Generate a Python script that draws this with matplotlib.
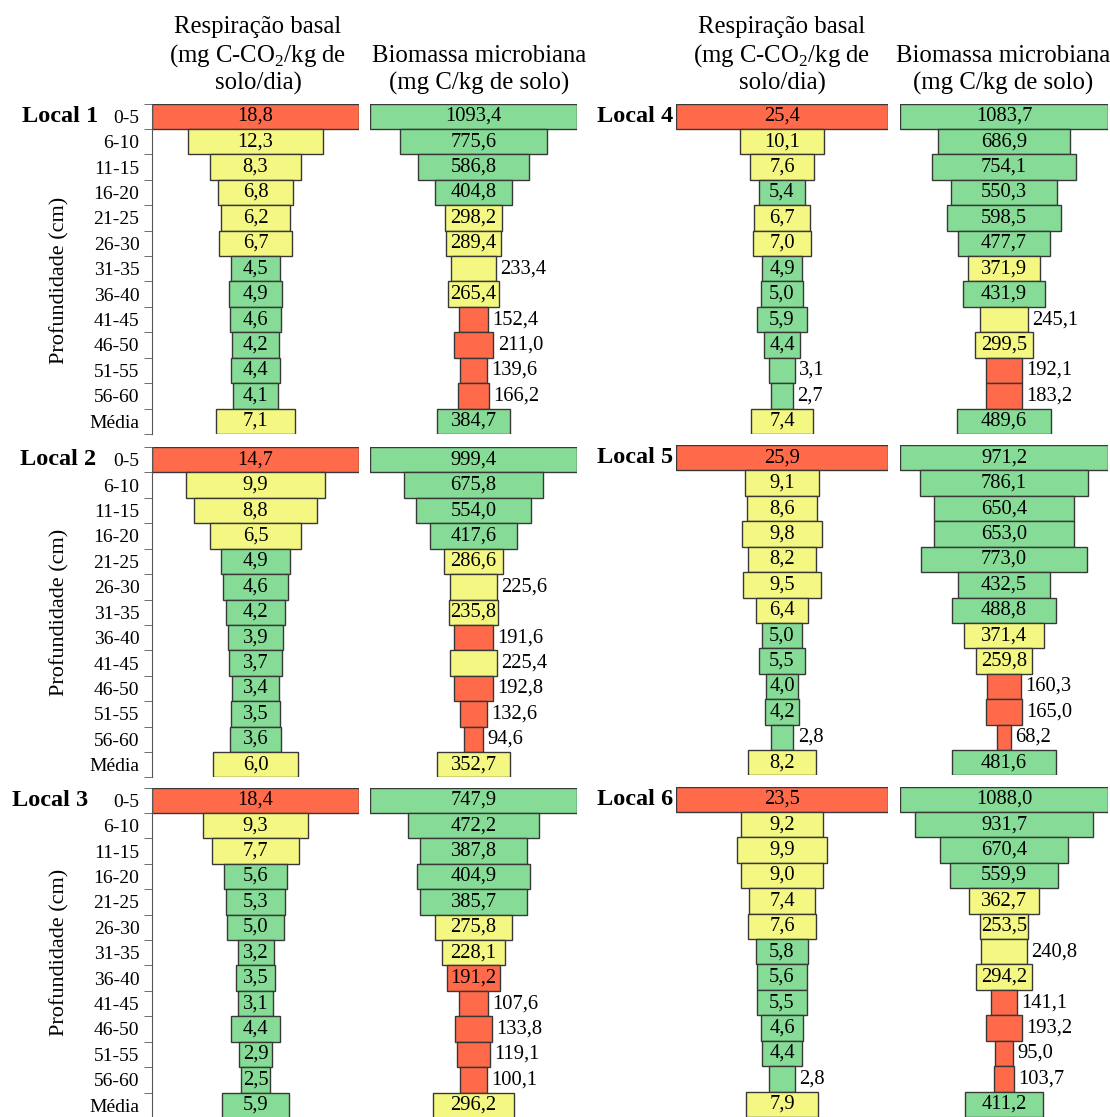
import numpy as np
import matplotlib.pyplot as plt

plt.rcParams['font.family'] = ['Liberation Serif', 'DejaVu Serif']
plt.rcParams['mathtext.fontset'] = 'custom'
plt.rcParams['mathtext.rm'] = 'Liberation Serif'

depths = ['0-5', '6-10', '11-15', '16-20', '21-25', '26-30', '31-35',
          '36-40', '41-45', '46-50', '51-55', '56-60', 'Média']

# respiração basal (mg C-CO2/kg de solo/dia)
resp_l1 = [18.8, 12.3, 8.3, 6.8, 6.2, 6.7, 4.5, 4.9, 4.6, 4.2, 4.4, 4.1, 7.1]
resp_l2 = [14.7, 9.9, 8.8, 6.5, 4.9, 4.6, 4.2, 3.9, 3.7, 3.4, 3.5, 3.6, 6.0]
resp_l3 = [18.4, 9.3, 7.7, 5.6, 5.3, 5.0, 3.2, 3.5, 3.1, 4.4, 2.9, 2.5, 5.9]
resp_l4 = [25.4, 10.1, 7.6, 5.4, 6.7, 7.0, 4.9, 5.0, 5.9, 4.4, 3.1, 2.7, 7.4]
resp_l5 = [25.9, 9.1, 8.6, 9.8, 8.2, 9.5, 6.4, 5.0, 5.5, 4.0, 4.2, 2.8, 8.2]
resp_l6 = [23.5, 9.2, 9.9, 9.0, 7.4, 7.6, 5.8, 5.6, 5.5, 4.6, 4.4, 2.8, 7.9]

# biomassa microbiana (mg C/kg de solo)
bio_l1 = [1093.4, 775.6, 586.8, 404.8, 298.2, 289.4, 233.4, 265.4, 152.4, 211.0, 139.6, 166.2, 384.7]
bio_l2 = [999.4, 675.8, 554.0, 417.6, 286.6, 225.6, 235.8, 191.6, 225.4, 192.8, 132.6, 94.6, 352.7]
bio_l3 = [747.9, 472.2, 387.8, 404.9, 385.7, 275.8, 228.1, 191.2, 107.6, 133.8, 119.1, 100.1, 296.2]
bio_l4 = [1083.7, 686.9, 754.1, 550.3, 598.5, 477.7, 371.9, 431.9, 245.1, 299.5, 192.1, 183.2, 489.6]
bio_l5 = [971.2, 786.1, 650.4, 653.0, 773.0, 432.5, 488.8, 371.4, 259.8, 160.3, 165.0, 68.2, 481.6]
bio_l6 = [1088.0, 931.7, 670.4, 559.9, 362.7, 253.5, 240.8, 294.2, 141.1, 193.2, 95.0, 103.7, 411.2]

# linhas com o rótulo fora da barra
out_resp = [[], [], [], [10, 11], [11], [11]]
out_bio = [[6, 8, 9, 10, 11], [5, 7, 8, 9, 10, 11], [8, 9, 10, 11],
           [8, 10, 11], [9, 10, 11], [6, 8, 9, 10, 11]]

RED, YEL, GRN = '#FF6A4A', '#F4F882', '#86DC96'


def cor(v, tipo):
    if tipo == 'resp':
        return GRN if v < 6 else (YEL if v < 13 else RED)
    return RED if v < 220 else (YEL if v < 380 else GRN)


W, H = 1110, 1117
fig = plt.figure(figsize=(W / 100, H / 100), dpi=100)


def px_axes(x0, x1, y0, y1):
    return fig.add_axes([x0 / W, 1 - y1 / H, (x1 - x0) / W, (y1 - y0) / H])


def draw(ax, vals, outside, tipo, labels):
    n = len(vals)
    m = max(vals)
    ax.barh(range(n), vals, left=[-v / 2 for v in vals], height=1.0,
            color=[cor(v, tipo) for v in vals], edgecolor='#383838', linewidth=1)
    ax.set_xlim(-m / 2, m / 2)
    ax.set_ylim(n - 0.5, -0.5)
    for i, v in enumerate(vals):
        txt = f'{v:.1f}'.replace('.', ',')
        if i in outside:
            ax.annotate(txt, (v / 2, i), xytext=(3, 0), textcoords='offset points',
                        ha='left', va='center', fontsize=14.8)
        else:
            ax.text(0, i, txt, ha='center', va='center', fontsize=14.8)
    for s in ['top', 'right', 'bottom']:
        ax.spines[s].set_visible(False)
    ax.set_xticks([])
    if labels:
        ax.spines['left'].set_color('#555555')
        ax.set_yticks(range(n))
        ax.set_yticklabels(depths, fontsize=14)
        ax.set_yticks(np.arange(-0.5, n), minor=True)
        ax.tick_params(axis='y', which='major', length=0, pad=9)
        ax.tick_params(axis='y', which='minor', length=6, color='#555555')
    else:
        ax.spines['left'].set_visible(False)
        ax.set_yticks([])


ROW = 25.42
resp_all = [resp_l1, resp_l2, resp_l3, resp_l4, resp_l5, resp_l6]
bio_all = [bio_l1, bio_l2, bio_l3, bio_l4, bio_l5, bio_l6]
tops = [103.5, 447, 787.5, 103.5, 445, 786.5]
name_x = [98, 96, 88, 673, 673, 673]
prof_y = [280, 612, 952]

for k in range(6):
    left = k < 3
    top = tops[k]
    bot = top + ROW * 13
    rx = (152, 359) if left else (676, 888)
    bx = (370, 577) if left else (900, 1108)
    ax1 = px_axes(rx[0], rx[1], top, bot)
    draw(ax1, resp_all[k], out_resp[k], 'resp', left)
    ax2 = px_axes(bx[0], bx[1], top, bot)
    draw(ax2, bio_all[k], out_bio[k], 'bio', False)
    fig.text(name_x[k] / W, 1 - (top + ROW / 2) / H, f'Local {k + 1}',
             ha='right', va='center', fontsize=17.5, fontweight='bold')
    if left:
        fig.text(60 / W, 1 - prof_y[k] / H, 'Profundidade (cm)', rotation=90,
                 ha='center', va='center', fontsize=16)

# cabeçalhos
for cx_r, cx_b in [(258, 479), (782, 1003)]:
    fig.text(cx_r / W, 1 - 33 / H, 'Respiração basal', ha='center', va='baseline', fontsize=17.8)
    fig.text(cx_r / W, 1 - 62 / H, '(mg C-CO$_{\\mathrm{2}}$/kg de', ha='center', va='baseline', fontsize=17.8)
    fig.text(cx_r / W, 1 - 90 / H, 'solo/dia)', ha='center', va='baseline', fontsize=17.8)
    fig.text(cx_b / W, 1 - 62 / H, 'Biomassa microbiana', ha='center', va='baseline', fontsize=17.8)
    fig.text(cx_b / W, 1 - 90 / H, '(mg C/kg de solo)', ha='center', va='baseline', fontsize=17.8)

fig.savefig('out.png', dpi=100)
